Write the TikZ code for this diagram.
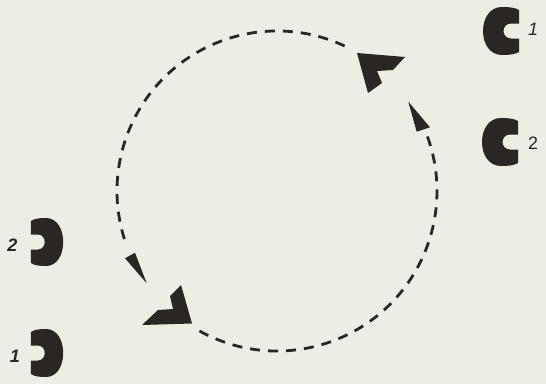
\documentclass[tikz,border=0pt]{standalone}
\usepackage{fontspec}
\setsansfont{Liberation Sans}
\definecolor{paper}{HTML}{EEEDE5}
\definecolor{ink}{HTML}{2A2624}
\begin{document}
\begin{tikzpicture}[x=1pt,y=1pt,
  arcline/.style={draw=ink, line width=2.8pt, dash pattern=on 10pt off 8pt},
  headfill/.style={fill=ink},
  lab/.style={font=\sffamily\fontsize{18}{18}\selectfont, text=ink, inner sep=0pt},
  cshape/.pic={
    \fill[ink] (18,7.5) -- (18,21)
      .. controls (14,23.5) and (8,24) .. (1,24)
      .. controls (-11,24) and (-18,13) .. (-18,0)
      .. controls (-18,-13) and (-11,-24) .. (1,-24)
      .. controls (8,-24) and (14,-23.5) .. (18,-21)
      -- (18,-7.5) -- (10,-7.5)
      .. controls (5.5,-7.5) and (2.5,-4) .. (2.5,0)
      .. controls (2.5,4) and (5.5,7.5) .. (10,7.5) -- cycle;
  }
]
\useasboundingbox (0,0) rectangle (546,384);
\fill[paper] (0,0) rectangle (546,384);

\coordinate (ctr) at (277,193);

% dashed arcs
\draw[arcline] ([shift={(65:160pt)}]ctr) arc[start angle=65, end angle=200, radius=160pt];
\draw[arcline] ([shift={(241:160pt)}]ctr) arc[start angle=241, end angle=380, radius=160pt];

% small arrowheads
\fill[headfill] (125,125.7) -- (135,131.3) -- (146.7,100.7) -- cycle;
\fill[headfill] (408.3,282.3) -- (430,256.7) -- (416.7,252.3) -- cycle;

% chevrons
\fill[headfill] (357,331) -- (405,327) -- (393,314) -- (377,313) -- (382,301) -- (368,291) -- cycle;
\fill[headfill] (192,60.5) -- (142,59) -- (158,74) -- (173,75) -- (170,88) -- (181,99) -- cycle;

% C shapes
\pic at (501,353) {cshape};
\pic at (500,242) {cshape};
\pic[xscale=-0.9] at (47,142) {cshape};
\pic[xscale=-0.9] at (47,31) {cshape};

% labels
\node[lab] (r1) at (533,355) {\itshape 1};
\node[lab] (r2) at (533,241) {2};
\node[lab] (l2) at (12.5,139) {\bfseries\itshape 2};
\node[lab] (l1) at (15,28) {\bfseries\itshape 1};
\end{tikzpicture}
\end{document}
